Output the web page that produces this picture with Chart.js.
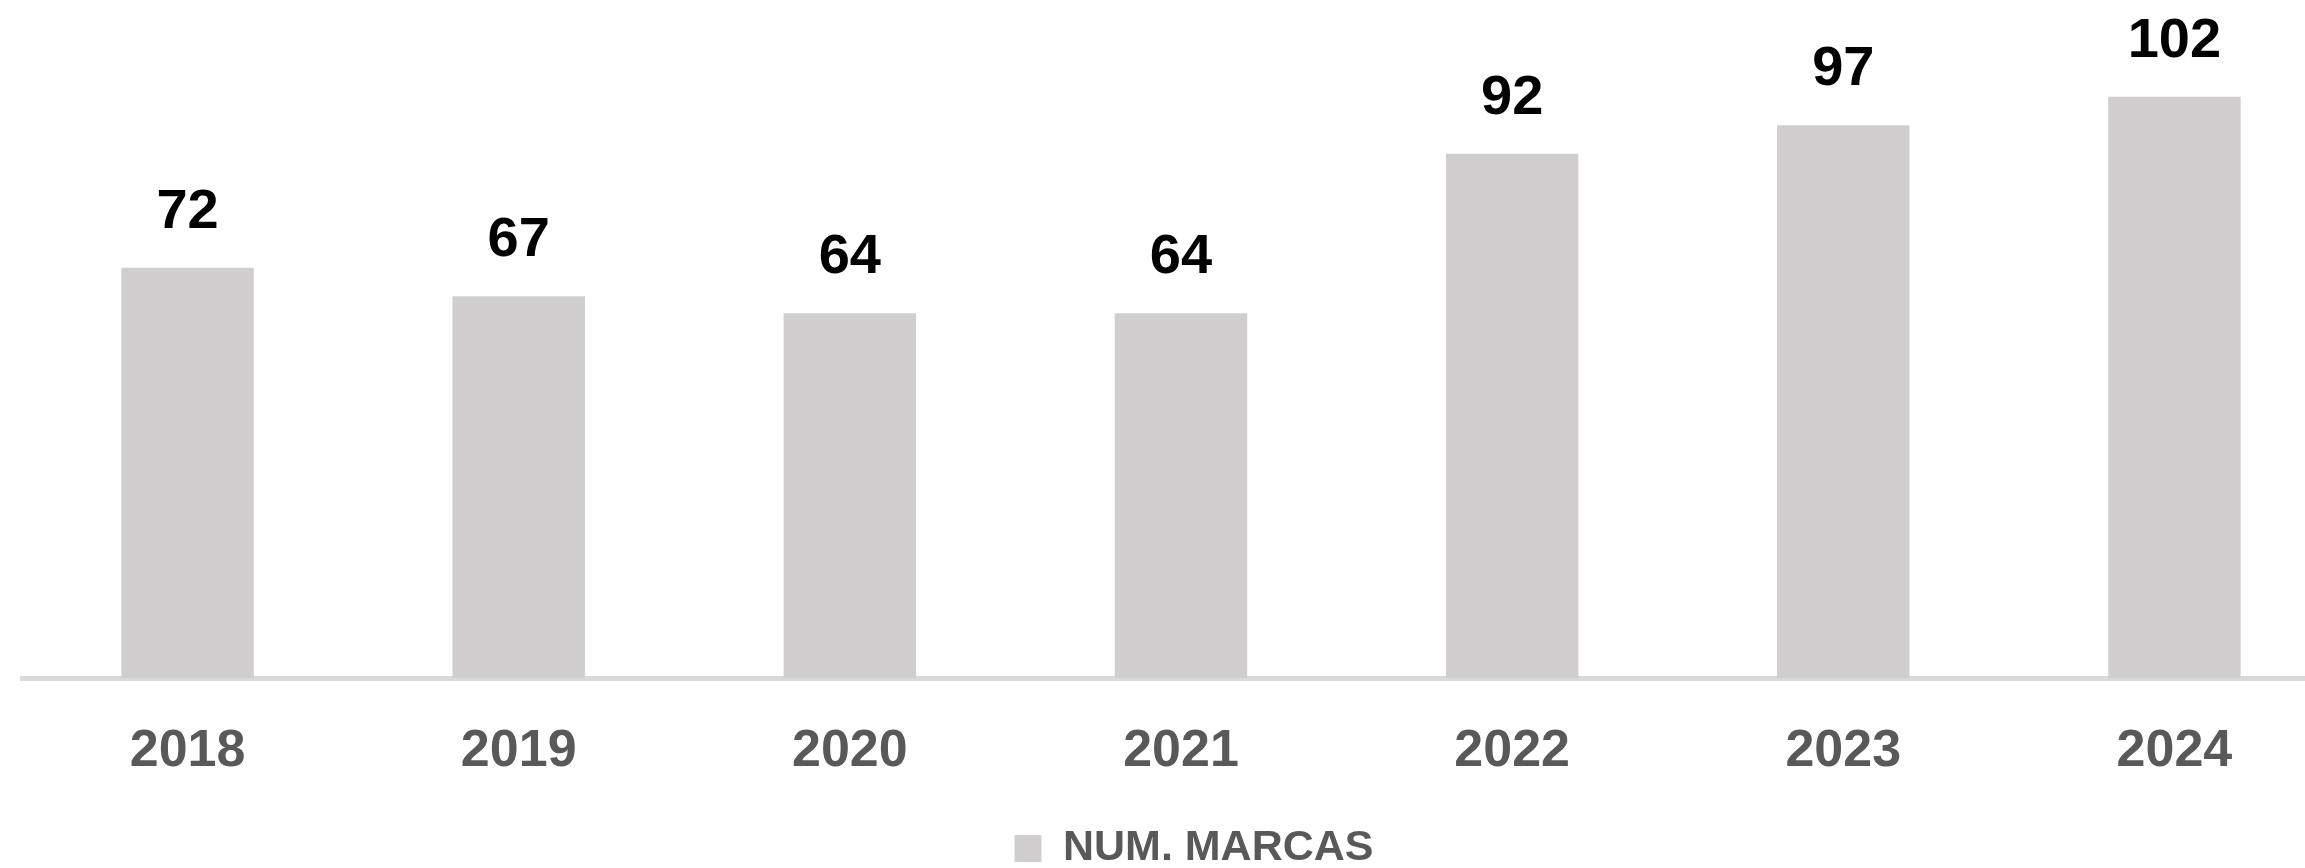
<!DOCTYPE html>
<html>
<head>
<meta charset="utf-8">
<script src="https://cdn.jsdelivr.net/npm/chart.js@4.4.1/dist/chart.umd.min.js"></script>
<style>
  html, body { margin: 0; padding: 0; background: #ffffff; overflow: hidden; width: 2305px; height: 868px; }
  #wrap { position: absolute; left: 0; top: 0; width: 2366px; height: 880px; }
  canvas { display: block; }
</style>
</head>
<body>
<div id="wrap"><canvas id="c" width="2366" height="880"></canvas></div>
<script>
const categories = ['2018', '2019', '2020', '2021', '2022', '2023', '2024'];
const seriesName = 'NUM. MARCAS';
const numMarcas = [72, 67, 64, 64, 92, 97, 102];

const FONT = '"Liberation Sans", Arial, Helvetica, sans-serif';

const valueLabels = {
  id: 'valueLabels',
  afterDatasetsDraw(chart) {
    const ctx = chart.ctx;
    const meta = chart.getDatasetMeta(0);
    const data = chart.data.datasets[0].data;
    ctx.save();
    ctx.font = 'bold 56px ' + FONT;
    ctx.fillStyle = '#000000';
    ctx.textAlign = 'center';
    ctx.textBaseline = 'alphabetic';
    meta.data.forEach((bar, i) => {
      ctx.fillText(String(data[i]), bar.x, bar.y - 40);
    });
    ctx.restore();
  }
};

new Chart(document.getElementById('c'), {
  type: 'bar',
  data: {
    labels: categories,
    datasets: [{
      label: seriesName,
      data: numMarcas,
      backgroundColor: '#D0CECE',
      borderWidth: 0,
      categoryPercentage: 1.0,
      barPercentage: 0.4
    }]
  },
  options: {
    responsive: false,
    devicePixelRatio: 1,
    animation: false,
    layout: { padding: { left: 22, right: 0, top: 0, bottom: 0 } },
    plugins: {
      tooltip: { enabled: false },
      legend: {
        display: true,
        position: 'bottom',
        labels: {
          boxWidth: 27,
          boxHeight: 27,
          padding: 0,
          color: '#595959',
          font: { family: FONT, size: 43, weight: 'bold' }
        }
      }
    },
    scales: {
      x: {
        grid: { display: false, drawTicks: false, tickLength: 0 },
        border: { display: true, color: '#D9D9D9', width: 5 },
        ticks: {
          color: '#595959',
          padding: 42,
          font: { family: FONT, size: 52, weight: 'bold' }
        },
        afterFit(scale) { scale.height = 149; }
      },
      y: {
        position: 'right',
        min: 0,
        max: 119,
        grid: { display: false, drawTicks: false },
        border: { display: false },
        ticks: { display: false },
        afterFit(scale) { scale.width = 26; }
      }
    }
  },
  plugins: [valueLabels]
});
</script>
</body>
</html>
